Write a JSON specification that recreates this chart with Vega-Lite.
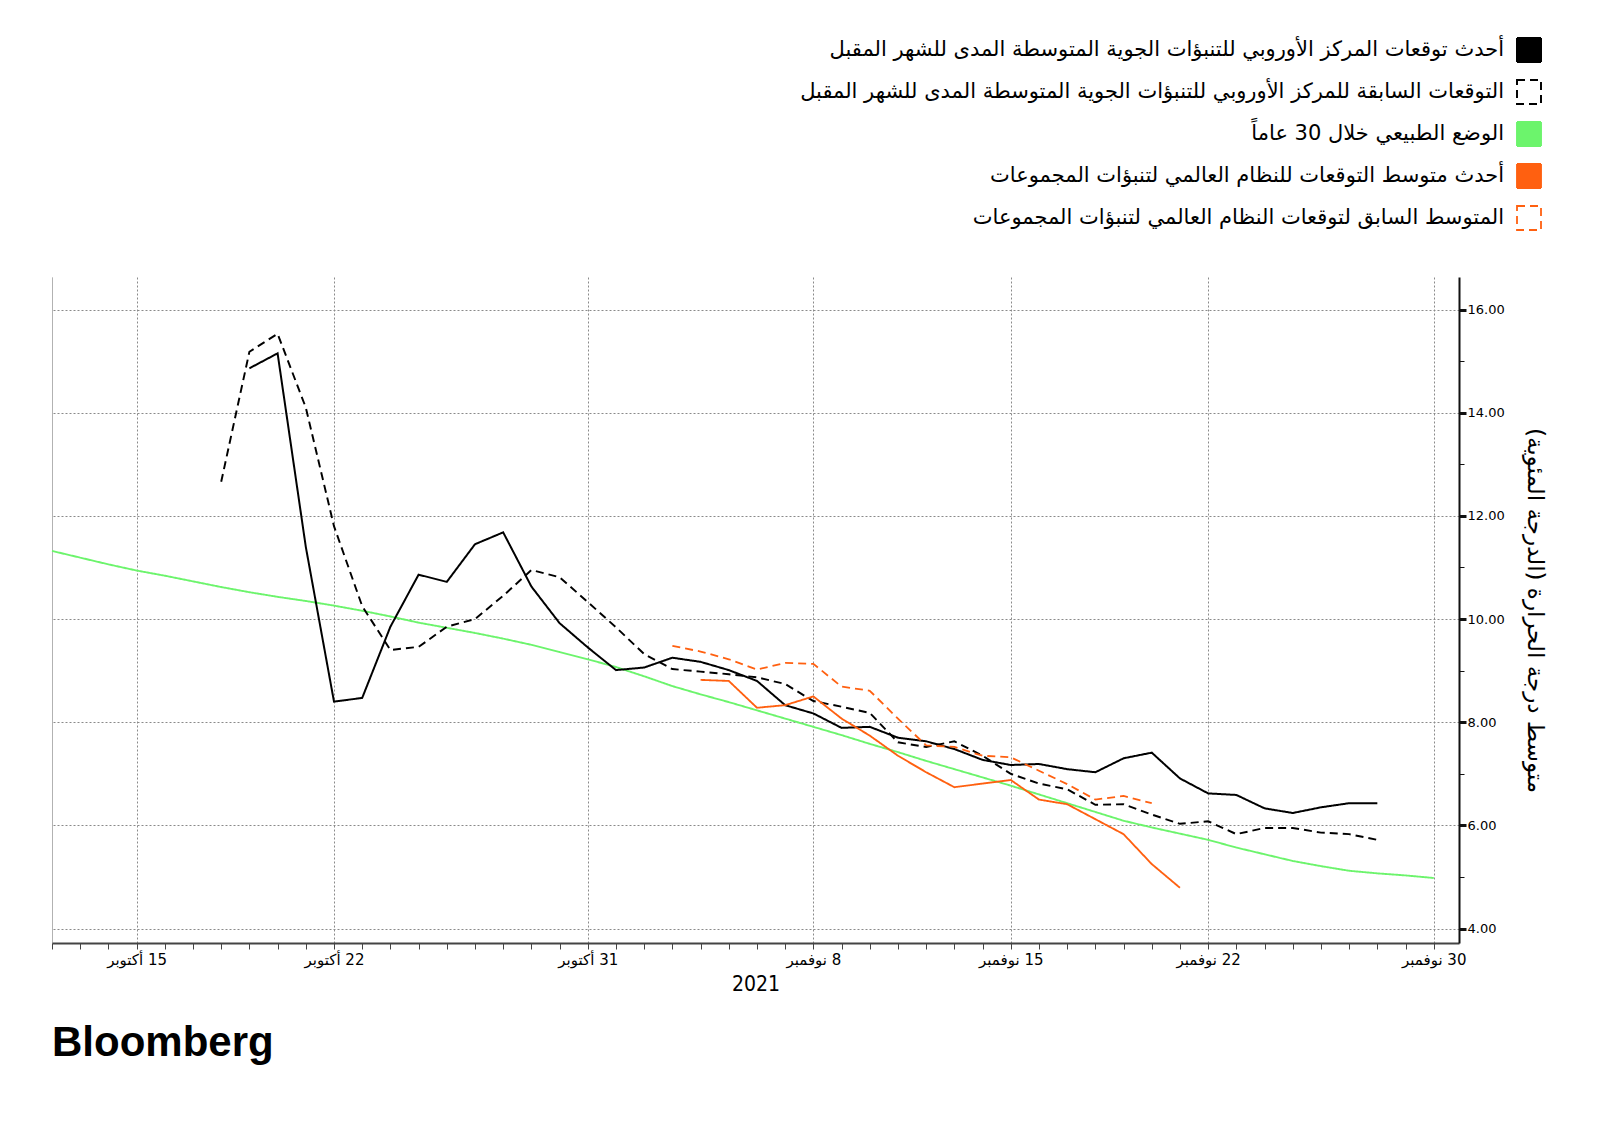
{
  "$schema": "https://vega.github.io/schema/vega-lite/v6.json",
  "width": 1407,
  "height": 666,
  "autosize": {"type": "none"},
  "padding": {"left": 52, "top": 277, "right": 141, "bottom": 178},
  "background": "white",
  "config": {"view": {"stroke": null}, "font": "DejaVu Sans"},
  "title": {"text": "Bloomberg", "orient": "bottom", "anchor": "start", "frame": "group", "font": "Liberation Sans", "fontSize": 42, "fontWeight": "bold", "color": "#000000", "offset": 29},
  "data": {"values": [
    {"series": "normal", "date": "2021-10-12", "value": 11.32},
    {"series": "normal", "date": "2021-10-13", "value": 11.19},
    {"series": "normal", "date": "2021-10-14", "value": 11.06},
    {"series": "normal", "date": "2021-10-15", "value": 10.94},
    {"series": "normal", "date": "2021-10-16", "value": 10.84},
    {"series": "normal", "date": "2021-10-17", "value": 10.73},
    {"series": "normal", "date": "2021-10-18", "value": 10.62},
    {"series": "normal", "date": "2021-10-19", "value": 10.52},
    {"series": "normal", "date": "2021-10-20", "value": 10.43},
    {"series": "normal", "date": "2021-10-21", "value": 10.35},
    {"series": "normal", "date": "2021-10-22", "value": 10.26},
    {"series": "normal", "date": "2021-10-23", "value": 10.16},
    {"series": "normal", "date": "2021-10-24", "value": 10.05},
    {"series": "normal", "date": "2021-10-25", "value": 9.93},
    {"series": "normal", "date": "2021-10-26", "value": 9.83},
    {"series": "normal", "date": "2021-10-27", "value": 9.73},
    {"series": "normal", "date": "2021-10-28", "value": 9.62},
    {"series": "normal", "date": "2021-10-29", "value": 9.50},
    {"series": "normal", "date": "2021-10-30", "value": 9.36},
    {"series": "normal", "date": "2021-10-31", "value": 9.22},
    {"series": "normal", "date": "2021-11-01", "value": 9.07},
    {"series": "normal", "date": "2021-11-02", "value": 8.89},
    {"series": "normal", "date": "2021-11-03", "value": 8.70},
    {"series": "normal", "date": "2021-11-04", "value": 8.54},
    {"series": "normal", "date": "2021-11-05", "value": 8.39},
    {"series": "normal", "date": "2021-11-06", "value": 8.23},
    {"series": "normal", "date": "2021-11-07", "value": 8.07},
    {"series": "normal", "date": "2021-11-08", "value": 7.91},
    {"series": "normal", "date": "2021-11-09", "value": 7.75},
    {"series": "normal", "date": "2021-11-10", "value": 7.58},
    {"series": "normal", "date": "2021-11-11", "value": 7.42},
    {"series": "normal", "date": "2021-11-12", "value": 7.25},
    {"series": "normal", "date": "2021-11-13", "value": 7.09},
    {"series": "normal", "date": "2021-11-14", "value": 6.93},
    {"series": "normal", "date": "2021-11-15", "value": 6.77},
    {"series": "normal", "date": "2021-11-16", "value": 6.60},
    {"series": "normal", "date": "2021-11-17", "value": 6.43},
    {"series": "normal", "date": "2021-11-18", "value": 6.26},
    {"series": "normal", "date": "2021-11-19", "value": 6.09},
    {"series": "normal", "date": "2021-11-20", "value": 5.96},
    {"series": "normal", "date": "2021-11-21", "value": 5.84},
    {"series": "normal", "date": "2021-11-22", "value": 5.72},
    {"series": "normal", "date": "2021-11-23", "value": 5.57},
    {"series": "normal", "date": "2021-11-24", "value": 5.44},
    {"series": "normal", "date": "2021-11-25", "value": 5.31},
    {"series": "normal", "date": "2021-11-26", "value": 5.21},
    {"series": "normal", "date": "2021-11-27", "value": 5.12},
    {"series": "normal", "date": "2021-11-28", "value": 5.07},
    {"series": "normal", "date": "2021-11-29", "value": 5.03},
    {"series": "normal", "date": "2021-11-30", "value": 4.98},

    {"series": "ecmwf_prev", "date": "2021-10-18", "value": 12.66},
    {"series": "ecmwf_prev", "date": "2021-10-19", "value": 15.18},
    {"series": "ecmwf_prev", "date": "2021-10-20", "value": 15.53},
    {"series": "ecmwf_prev", "date": "2021-10-21", "value": 14.10},
    {"series": "ecmwf_prev", "date": "2021-10-22", "value": 11.80},
    {"series": "ecmwf_prev", "date": "2021-10-23", "value": 10.25},
    {"series": "ecmwf_prev", "date": "2021-10-24", "value": 9.40},
    {"series": "ecmwf_prev", "date": "2021-10-25", "value": 9.46},
    {"series": "ecmwf_prev", "date": "2021-10-26", "value": 9.85},
    {"series": "ecmwf_prev", "date": "2021-10-27", "value": 10.00},
    {"series": "ecmwf_prev", "date": "2021-10-28", "value": 10.45},
    {"series": "ecmwf_prev", "date": "2021-10-29", "value": 10.95},
    {"series": "ecmwf_prev", "date": "2021-10-30", "value": 10.81},
    {"series": "ecmwf_prev", "date": "2021-10-31", "value": 10.33},
    {"series": "ecmwf_prev", "date": "2021-11-01", "value": 9.84},
    {"series": "ecmwf_prev", "date": "2021-11-02", "value": 9.32},
    {"series": "ecmwf_prev", "date": "2021-11-03", "value": 9.03},
    {"series": "ecmwf_prev", "date": "2021-11-04", "value": 8.98},
    {"series": "ecmwf_prev", "date": "2021-11-05", "value": 8.93},
    {"series": "ecmwf_prev", "date": "2021-11-06", "value": 8.87},
    {"series": "ecmwf_prev", "date": "2021-11-07", "value": 8.74},
    {"series": "ecmwf_prev", "date": "2021-11-08", "value": 8.41},
    {"series": "ecmwf_prev", "date": "2021-11-09", "value": 8.30},
    {"series": "ecmwf_prev", "date": "2021-11-10", "value": 8.18},
    {"series": "ecmwf_prev", "date": "2021-11-11", "value": 7.61},
    {"series": "ecmwf_prev", "date": "2021-11-12", "value": 7.52},
    {"series": "ecmwf_prev", "date": "2021-11-13", "value": 7.63},
    {"series": "ecmwf_prev", "date": "2021-11-14", "value": 7.35},
    {"series": "ecmwf_prev", "date": "2021-11-15", "value": 7.00},
    {"series": "ecmwf_prev", "date": "2021-11-16", "value": 6.81},
    {"series": "ecmwf_prev", "date": "2021-11-17", "value": 6.70},
    {"series": "ecmwf_prev", "date": "2021-11-18", "value": 6.40},
    {"series": "ecmwf_prev", "date": "2021-11-19", "value": 6.41},
    {"series": "ecmwf_prev", "date": "2021-11-20", "value": 6.21},
    {"series": "ecmwf_prev", "date": "2021-11-21", "value": 6.03},
    {"series": "ecmwf_prev", "date": "2021-11-22", "value": 6.08},
    {"series": "ecmwf_prev", "date": "2021-11-23", "value": 5.83},
    {"series": "ecmwf_prev", "date": "2021-11-24", "value": 5.95},
    {"series": "ecmwf_prev", "date": "2021-11-25", "value": 5.95},
    {"series": "ecmwf_prev", "date": "2021-11-26", "value": 5.86},
    {"series": "ecmwf_prev", "date": "2021-11-27", "value": 5.83},
    {"series": "ecmwf_prev", "date": "2021-11-28", "value": 5.72},

    {"series": "ecmwf_new", "date": "2021-10-19", "value": 14.86},
    {"series": "ecmwf_new", "date": "2021-10-20", "value": 15.15},
    {"series": "ecmwf_new", "date": "2021-10-21", "value": 11.40},
    {"series": "ecmwf_new", "date": "2021-10-22", "value": 8.40},
    {"series": "ecmwf_new", "date": "2021-10-23", "value": 8.47},
    {"series": "ecmwf_new", "date": "2021-10-24", "value": 9.85},
    {"series": "ecmwf_new", "date": "2021-10-25", "value": 10.86},
    {"series": "ecmwf_new", "date": "2021-10-26", "value": 10.72},
    {"series": "ecmwf_new", "date": "2021-10-27", "value": 11.45},
    {"series": "ecmwf_new", "date": "2021-10-28", "value": 11.68},
    {"series": "ecmwf_new", "date": "2021-10-29", "value": 10.63},
    {"series": "ecmwf_new", "date": "2021-10-30", "value": 9.92},
    {"series": "ecmwf_new", "date": "2021-10-31", "value": 9.45},
    {"series": "ecmwf_new", "date": "2021-11-01", "value": 9.01},
    {"series": "ecmwf_new", "date": "2021-11-02", "value": 9.06},
    {"series": "ecmwf_new", "date": "2021-11-03", "value": 9.25},
    {"series": "ecmwf_new", "date": "2021-11-04", "value": 9.17},
    {"series": "ecmwf_new", "date": "2021-11-05", "value": 9.01},
    {"series": "ecmwf_new", "date": "2021-11-06", "value": 8.80},
    {"series": "ecmwf_new", "date": "2021-11-07", "value": 8.33},
    {"series": "ecmwf_new", "date": "2021-11-08", "value": 8.17},
    {"series": "ecmwf_new", "date": "2021-11-09", "value": 7.89},
    {"series": "ecmwf_new", "date": "2021-11-10", "value": 7.91},
    {"series": "ecmwf_new", "date": "2021-11-11", "value": 7.70},
    {"series": "ecmwf_new", "date": "2021-11-12", "value": 7.63},
    {"series": "ecmwf_new", "date": "2021-11-13", "value": 7.48},
    {"series": "ecmwf_new", "date": "2021-11-14", "value": 7.27},
    {"series": "ecmwf_new", "date": "2021-11-15", "value": 7.17},
    {"series": "ecmwf_new", "date": "2021-11-16", "value": 7.19},
    {"series": "ecmwf_new", "date": "2021-11-17", "value": 7.09},
    {"series": "ecmwf_new", "date": "2021-11-18", "value": 7.03},
    {"series": "ecmwf_new", "date": "2021-11-19", "value": 7.30},
    {"series": "ecmwf_new", "date": "2021-11-20", "value": 7.41},
    {"series": "ecmwf_new", "date": "2021-11-21", "value": 6.91},
    {"series": "ecmwf_new", "date": "2021-11-22", "value": 6.62},
    {"series": "ecmwf_new", "date": "2021-11-23", "value": 6.59},
    {"series": "ecmwf_new", "date": "2021-11-24", "value": 6.33},
    {"series": "ecmwf_new", "date": "2021-11-25", "value": 6.24},
    {"series": "ecmwf_new", "date": "2021-11-26", "value": 6.35},
    {"series": "ecmwf_new", "date": "2021-11-27", "value": 6.43},
    {"series": "ecmwf_new", "date": "2021-11-28", "value": 6.43},

    {"series": "gefs_prev", "date": "2021-11-03", "value": 9.48},
    {"series": "gefs_prev", "date": "2021-11-04", "value": 9.37},
    {"series": "gefs_prev", "date": "2021-11-05", "value": 9.22},
    {"series": "gefs_prev", "date": "2021-11-06", "value": 9.02},
    {"series": "gefs_prev", "date": "2021-11-07", "value": 9.15},
    {"series": "gefs_prev", "date": "2021-11-08", "value": 9.13},
    {"series": "gefs_prev", "date": "2021-11-09", "value": 8.69},
    {"series": "gefs_prev", "date": "2021-11-10", "value": 8.61},
    {"series": "gefs_prev", "date": "2021-11-11", "value": 8.07},
    {"series": "gefs_prev", "date": "2021-11-12", "value": 7.55},
    {"series": "gefs_prev", "date": "2021-11-13", "value": 7.52},
    {"series": "gefs_prev", "date": "2021-11-14", "value": 7.35},
    {"series": "gefs_prev", "date": "2021-11-15", "value": 7.32},
    {"series": "gefs_prev", "date": "2021-11-16", "value": 7.06},
    {"series": "gefs_prev", "date": "2021-11-17", "value": 6.80},
    {"series": "gefs_prev", "date": "2021-11-18", "value": 6.50},
    {"series": "gefs_prev", "date": "2021-11-19", "value": 6.57},
    {"series": "gefs_prev", "date": "2021-11-20", "value": 6.43},

    {"series": "gefs_new", "date": "2021-11-04", "value": 8.82},
    {"series": "gefs_new", "date": "2021-11-05", "value": 8.80},
    {"series": "gefs_new", "date": "2021-11-06", "value": 8.28},
    {"series": "gefs_new", "date": "2021-11-07", "value": 8.33},
    {"series": "gefs_new", "date": "2021-11-08", "value": 8.50},
    {"series": "gefs_new", "date": "2021-11-09", "value": 8.07},
    {"series": "gefs_new", "date": "2021-11-10", "value": 7.74},
    {"series": "gefs_new", "date": "2021-11-11", "value": 7.35},
    {"series": "gefs_new", "date": "2021-11-12", "value": 7.03},
    {"series": "gefs_new", "date": "2021-11-13", "value": 6.74},
    {"series": "gefs_new", "date": "2021-11-14", "value": 6.81},
    {"series": "gefs_new", "date": "2021-11-15", "value": 6.88},
    {"series": "gefs_new", "date": "2021-11-16", "value": 6.50},
    {"series": "gefs_new", "date": "2021-11-17", "value": 6.41},
    {"series": "gefs_new", "date": "2021-11-18", "value": 6.12},
    {"series": "gefs_new", "date": "2021-11-19", "value": 5.83},
    {"series": "gefs_new", "date": "2021-11-20", "value": 5.25},
    {"series": "gefs_new", "date": "2021-11-21", "value": 4.79}
  ]},
  "mark": {"type": "line", "interpolate": "linear", "strokeJoin": "miter", "strokeCap": "butt"},
  "encoding": {
    "x": {
      "field": "date", "type": "temporal",
      "scale": {"type": "utc", "domain": [{"year": 2021, "month": 10, "date": 12, "utc": true}, {"year": 2021, "month": 11, "date": 30, "hours": 21, "minutes": 30, "utc": true}]},
      "axis": {
        "orient": "bottom",
        "tickCount": {"interval": "day", "step": 1},
        "labelExpr": "((utcmonth(datum.value)==9 && indexof([15,22,31], utcdate(datum.value))>=0) || (utcmonth(datum.value)==10 && indexof([8,15,22,30], utcdate(datum.value))>=0)) ? '\u200F' + utcdate(datum.value) + ' ' + (utcmonth(datum.value)==9 ? 'أكتوبر' : 'نوفمبر') : ''",
        "labelOverlap": false,
        "labelFont": "DejaVu Sans",
        "labelFontSize": 15,
        "labelColor": "#000000",
        "labelPadding": 3,
        "grid": true,
        "gridColor": {"condition": {"test": "utcmonth(datum.value)==9 && utcdate(datum.value)==12", "value": "#999999"}, "value": "#8a8a8a"},
        "gridDash": {"condition": {"test": "utcmonth(datum.value)==9 && utcdate(datum.value)==12", "value": [1, 0]}, "value": [2, 2]},
        "gridOpacity": {"condition": {"test": "(utcmonth(datum.value)==9 && indexof([12,15,22,31], utcdate(datum.value))>=0) || (utcmonth(datum.value)==10 && indexof([8,15,22,30], utcdate(datum.value))>=0)", "value": 1}, "value": 0},
        "gridWidth": 1,
        "domainColor": "#444444",
        "domainWidth": 2,
        "tickColor": "#444444",
        "tickSize": 6,
        "tickWidth": 1,
        "title": "2021",
        "titleFont": "DejaVu Sans Condensed",
        "titleFontSize": 21,
        "titleFontWeight": "normal",
        "titleColor": "#000000",
        "titlePadding": 6
      }
    },
    "y": {
      "field": "value", "type": "quantitative",
      "scale": {"domain": [3.72, 16.63], "nice": false, "zero": false},
      "axis": {
        "orient": "right",
        "values": [4, 5, 6, 7, 8, 9, 10, 11, 12, 13, 14, 15, 16],
        "labelExpr": "datum.value % 2 == 0 ? format(datum.value, '.2f') : ''",
        "labelFont": "DejaVu Sans",
        "labelFontSize": 13,
        "labelColor": "#000000",
        "labelPadding": 1,
        "grid": true,
        "gridColor": "#8a8a8a",
        "gridDash": [2, 2],
        "gridOpacity": {"condition": {"test": "datum.value % 2 == 0", "value": 1}, "value": 0},
        "domainColor": "#111111",
        "domainWidth": 2,
        "tickColor": "#111111",
        "tickSize": {"condition": {"test": "datum.value % 2 == 0", "value": 7}, "value": 5},
        "tickWidth": {"condition": {"test": "datum.value % 2 == 0", "value": 3}, "value": 1},
        "title": "متوسط درجة الحرارة (الدرجة المئوية)",
        "titleFont": "DejaVu Sans",
        "titleFontSize": 23,
        "titleFontWeight": "normal",
        "titleColor": "#000000",
        "titlePadding": 18
      }
    },
    "color": {
      "field": "series", "type": "nominal",
      "scale": {"domain": ["ecmwf_new", "ecmwf_prev", "normal", "gefs_new", "gefs_prev"], "range": ["#000000", "#000000", "#6cf46c", "#ff6010", "#ff6010"]},
      "legend": {
        "orient": "none",
        "legendX": 1464,
        "legendY": -240,
        "title": null,
        "direction": "vertical",
        "symbolType": "square",
        "symbolSize": 576,
        "symbolStrokeWidth": 2,
        "labelFont": "DejaVu Sans",
        "labelFontSize": 21,
        "labelColor": "#000000",
        "labelAlign": "right",
        "labelOffset": -38,
        "labelLimit": 1200,
        "rowPadding": 10,
        "labelExpr": "datum.value == 'ecmwf_new' ? 'أحدث توقعات المركز الأوروبي للتنبؤات الجوية المتوسطة المدى للشهر المقبل' : datum.value == 'ecmwf_prev' ? 'التوقعات السابقة للمركز الأوروبي للتنبؤات الجوية المتوسطة المدى للشهر المقبل' : datum.value == 'normal' ? 'الوضع الطبيعي خلال 30 عاماً' : datum.value == 'gefs_new' ? 'أحدث متوسط التوقعات للنظام العالمي لتنبؤات المجموعات' : 'المتوسط السابق لتوقعات النظام العالمي لتنبؤات المجموعات'",
        "encode": {
          "symbols": {
            "update": {
              "fill": {"signal": "indexof(['ecmwf_prev','gefs_prev'], datum.value) >= 0 ? 'transparent' : scale('color', datum.value)"},
              "stroke": {"signal": "scale('color', datum.value)"},
              "strokeDash": {"signal": "indexof(['ecmwf_prev','gefs_prev'], datum.value) >= 0 ? [6,4] : [1,0]"},
              "opacity": {"value": 1}
            }
          }
        }
      }
    },
    "strokeDash": {
      "field": "series", "type": "nominal",
      "scale": {"domain": ["ecmwf_new", "ecmwf_prev", "normal", "gefs_new", "gefs_prev"], "range": [[1, 0], [8, 5], [1, 0], [1, 0], [8, 5]]},
      "legend": null
    },
    "strokeWidth": {
      "field": "series", "type": "nominal",
      "scale": {"domain": ["ecmwf_new", "ecmwf_prev", "normal", "gefs_new", "gefs_prev"], "range": [2, 1.8, 1.6, 2.8, 2.8]},
      "legend": null
    }
  }
}
